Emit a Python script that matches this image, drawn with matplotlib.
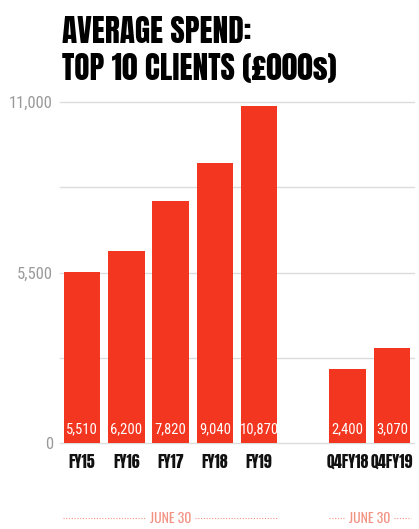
import matplotlib
matplotlib.use("Agg")
import matplotlib.pyplot as plt

# data
categories = ["FY15", "FY16", "FY17", "FY18", "FY19", "Q4FY18", "Q4FY19"]
values = [5510, 6200, 7820, 9040, 10870, 2400, 3070]
positions = [0, 1, 2, 3, 4, 6, 7]
groups = [(0, 4), (5, 6)]          # index ranges of bars sharing a "JUNE 30" label
group_label = "JUNE 30"
yticks = [0, 5500, 11000]
ygrid = [0, 2750, 5500, 8250, 11000]
title_lines = ["AVERAGE SPEND:", "TOP 10 CLIENTS (£000s)"]

RED = "#f2361f"
SALMON = "#f39384"
HEAD = ["Anton", "Oswald", "DejaVu Sans"]
BODY = ["Roboto Condensed", "Saira SemiCondensed", "DejaVu Sans"]
NOTE = ["Oswald", "Roboto Condensed", "DejaVu Sans"]

plt.rcParams["font.family"] = BODY

fig = plt.figure(figsize=(4.19, 5.29), dpi=100)
ax = fig.add_axes([60 / 419, 86 / 529, 354 / 419, 341 / 529])

ax.bar(positions, values, width=0.83, color=RED, zorder=2)

for y in ygrid:
    ax.axhline(y, color="#dcdcdc", lw=1, zorder=1, clip_on=False)

ax.set_ylim(0, 11000)
ax.set_xlim(-0.5, 7.5)
ax.set_yticks(yticks)
ax.set_yticklabels([f"{v:,}" for v in yticks], color="#9a9a9a", fontsize=12)
ax.set_xticks(positions)
ax.set_xticklabels(categories, fontsize=11.5, color="#111111", family=HEAD)
ax.tick_params(axis="y", length=0, pad=5)
ax.tick_params(axis="x", length=0, pad=8)
for s in ax.spines.values():
    s.set_visible(False)

# value labels inside the bars
for x, v in zip(positions, values):
    ax.annotate(f"{v:,}", (x, 0), xytext=(0, 7), textcoords="offset points",
                ha="center", va="baseline", color="white", fontsize=10.5)

# "JUNE 30" group labels with dotted rules
tr = ax.get_xaxis_transform()
for i0, i1 in groups:
    x0 = positions[i0] - 0.43
    x1 = positions[i1] + 0.43
    mid = (x0 + x1) / 2
    gap = 0.55
    ax.text(mid, -0.22, group_label, transform=tr, ha="center", va="center",
            color=SALMON, fontsize=10, family=NOTE)
    ax.plot([x0, mid - gap], [-0.22, -0.22], transform=tr, ls=(0, (1, 1.5)),
            lw=0.8, color=SALMON, clip_on=False)
    ax.plot([mid + gap, x1], [-0.22, -0.22], transform=tr, ls=(0, (1, 1.5)),
            lw=0.8, color=SALMON, clip_on=False)

fig.text(62 / 419, (529 - 43) / 529, title_lines[0], fontsize=22.5,
         color="black", va="baseline", family=HEAD)
fig.text(62 / 419, (529 - 80) / 529, title_lines[1], fontsize=22.5,
         color="black", va="baseline", family=HEAD)

fig.savefig("out.png", dpi=100)
